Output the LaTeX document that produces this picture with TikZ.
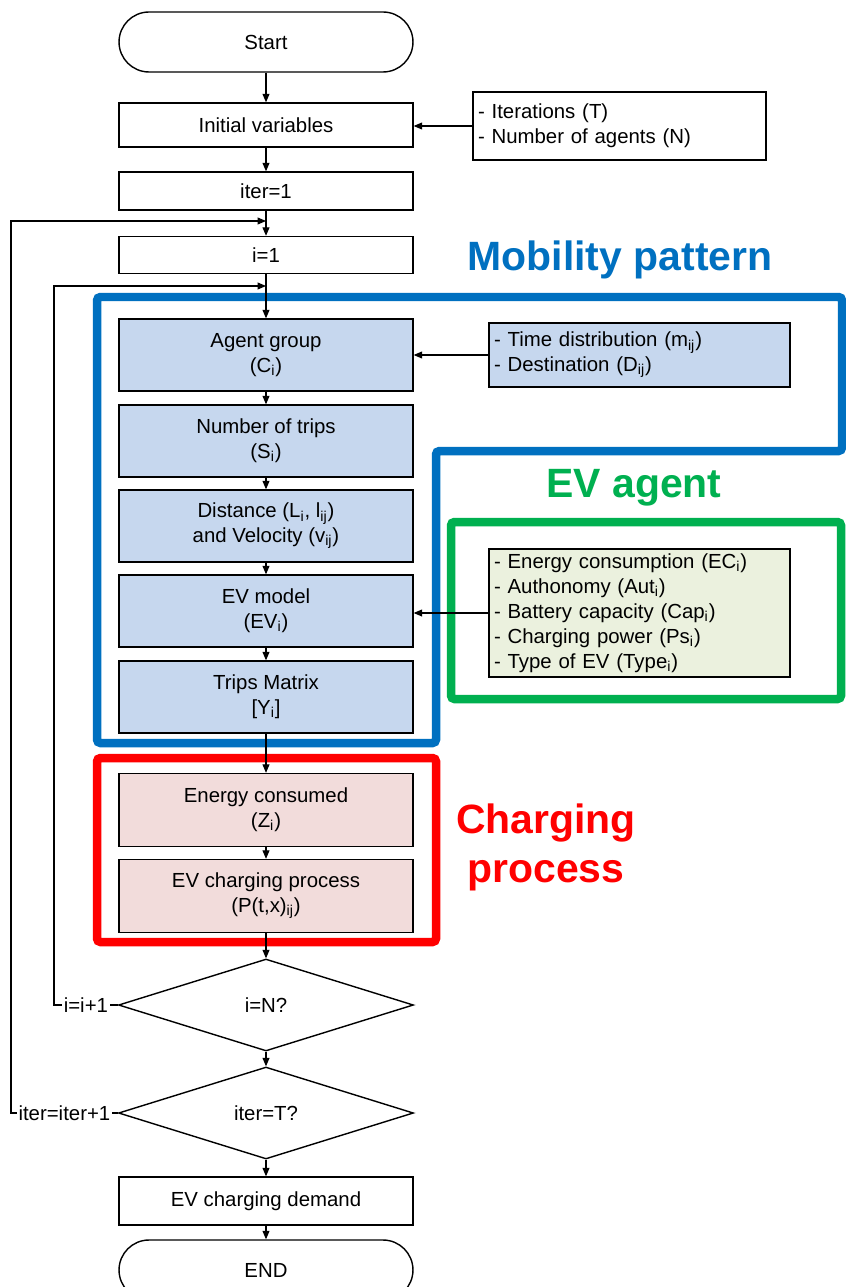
\documentclass[tikz,border=0pt]{standalone}
\usepackage{fontspec}
\setmainfont{Liberation Sans}
\usetikzlibrary{shapes.geometric,arrows.meta}

\definecolor{mobblue}{HTML}{0070C0}
\definecolor{evgreen}{HTML}{00B050}
\definecolor{chred}{HTML}{FF0000}
\definecolor{mobfill}{HTML}{C6D7EE}
\definecolor{evfill}{HTML}{EBF1DE}
\definecolor{chfill}{HTML}{F2DCDB}

\newcommand{\boxfont}{\fontsize{11.6pt}{14.2pt}\selectfont}
\newcommand{\titlefont}{\fontsize{23.3pt}{27.9pt}\selectfont\bfseries}
\newcommand{\idx}[1]{\textsubscript{#1}}

\tikzset{
    flowbox/.style={draw, line width=0.8pt, minimum width=5.88cm, align=center, inner sep=0pt},
    term/.style={flowbox, rounded corners=0.6cm, minimum height=1.2cm},
    mobbox/.style={flowbox, fill=mobfill, minimum height=1.44cm},
    chbox/.style={flowbox, fill=chfill, minimum height=1.46cm},
    listbox/.style={draw, line width=0.8pt, align=left, inner xsep=0.1cm, inner ysep=0pt},
    decision/.style={draw, diamond, line width=0.8pt, minimum width=5.9cm, minimum height=1.84cm, inner sep=0pt},
    frame/.style={line width=0.17cm, rounded corners=2pt},
    title/.style={font=\titlefont},
    looplbl/.style={fill=white, inner sep=1pt},
}

\begin{document}
\begin{tikzpicture}[x=0.02cm, y=-0.02cm, line width=0.6pt,
    >={Triangle[length=0.17cm, width=0.14cm]},
    every node/.append style={font=\boxfont}]
    \useasboundingbox (0,0) rectangle (845,1287);

    % groups
    \draw[frame, mobblue] (97,297) -- (842,297) -- (842,451) -- (436,451) -- (436,743) -- (97,743) -- cycle;
    \draw[frame, evgreen] (451,522) rectangle (841,699);
    \draw[frame, chred] (97,758) rectangle (436,942);
    \node[title, mobblue, anchor=base] (mobtitle) at (620,271) {Mobility pattern};
    \node[title, evgreen, anchor=base] (evtitle) at (634,497) {EV agent};
    \node[title, chred, align=center] (chtitle) at (546,847) {Charging\\process};

    % main flow
    \node[term] (start) at (266,42) {Start};
    \node[flowbox, minimum height=0.88cm] (init) at (266,125) {Initial variables};
    \node[listbox, minimum height=1.36cm, text width=5.66cm] (initpar) at (619.5,126) {- Iterations (T)\\- Number of agents (N)};
    \node[flowbox, minimum height=0.76cm] (iterone) at (266,191) {iter=1};
    \node[flowbox, minimum height=0.74cm] (ione) at (266,255) {i=1};

    \node[mobbox] (group) at (266,355) {Agent group\\(C\idx{i})};
    \node[listbox, fill=mobfill, minimum height=1.28cm, text width=5.82cm] (timepar) at (639.5,355) {- Time distribution (m\idx{ij})\\- Destination (D\idx{ij})};
    \node[mobbox] (trips) at (266,441) {Number of trips\\(S\idx{i})};
    \node[mobbox] (dist) at (266,526) {Distance (L\idx{i}, l\idx{ij})\\and Velocity (v\idx{ij})};
    \node[mobbox] (evmodel) at (266,611) {EV model\\(EV\idx{i})};
    \node[listbox, fill=evfill, minimum height=2.56cm, text width=5.82cm] (evpar) at (639.5,613) {- Energy consumption (EC\idx{i})\\- Authonomy (Aut\idx{i})\\- Battery capacity (Cap\idx{i})\\- Charging power (Ps\idx{i})\\- Type of EV (Type\idx{i})};
    \node[mobbox] (matrix) at (266,697) {Trips Matrix\\{[}Y\idx{i}{]}};

    \node[chbox] (consumed) at (266,810) {Energy consumed\\(Z\idx{i})};
    \node[chbox] (charging) at (266,896) {EV charging process\\(P(t,x)\idx{ij})};

    \node[decision] (ieqn) at (266,1005) {i=N?};
    \node[decision] (itert) at (266,1113) {iter=T?};
    \node[flowbox, minimum height=0.96cm] (demand) at (266,1201) {EV charging demand};
    \node[term] (finish) at (266,1270) {END};

    % connectors
    \foreach \a/\b in {start/init, init/iterone, iterone/ione, ione/group, group/trips, trips/dist, dist/evmodel, evmodel/matrix, matrix/consumed, consumed/charging, charging/ieqn, ieqn/itert, itert/demand, demand/finish}
        \draw[->] (\a) -- (\b);
    \draw[->] (initpar.west) -- (initpar.west -| init.east);
    \draw[->] (timepar.west) -- (timepar.west -| group.east);
    \draw[->] (evpar.west) -- (evpar.west -| evmodel.east);

    % loops
    \coordinate (iterjoin) at (266,221);
    \coordinate (ijoin) at (266,286);
    \coordinate (iterrail) at (11,0);
    \coordinate (irail) at (54,0);
    \draw[->] (ieqn.west) -- node[looplbl] {i=i+1} (ieqn.west -| irail) |- (ijoin);
    \draw[->] (itert.west) -- node[looplbl] {iter=iter+1} (itert.west -| iterrail) |- (iterjoin);
\end{tikzpicture}
\end{document}
